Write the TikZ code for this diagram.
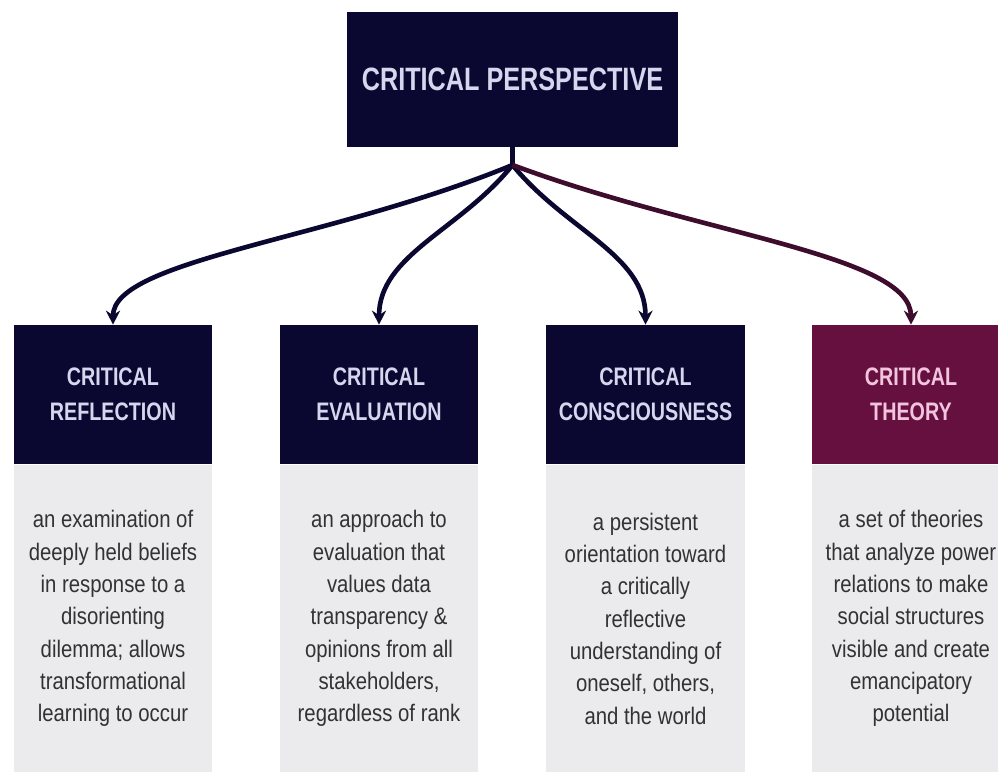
\documentclass[tikz,border=0pt]{standalone}
\usepackage{fontspec}
\setmainfont{Liberation Sans}
\newfontfamily\condfont{Liberation Sans}[FakeStretch=0.78]
\newfontfamily\bodyfont{Liberation Sans}[FakeStretch=0.85]
\usetikzlibrary{arrows.meta}
\definecolor{navy}{RGB}{10,8,48}
\definecolor{wine}{RGB}{102,16,64}
\definecolor{winelink}{RGB}{62,12,44}
\definecolor{paper}{RGB}{235,235,237}
\definecolor{ink}{RGB}{50,50,52}
\definecolor{lilac}{RGB}{214,214,238}
\definecolor{blush}{RGB}{242,196,222}

\begin{document}
\begin{tikzpicture}[x=0.025cm, y=0.025cm,
  title/.style={rectangle, fill=navy, text=lilac, minimum width=8.275cm,
    minimum height=3.375cm, font=\condfont\bfseries\fontsize{23}{27}\selectfont},
  head/.style={rectangle, fill=navy, text=lilac, minimum width=4.95cm,
    minimum height=3.475cm, align=center, inner sep=0pt,
    font=\condfont\bfseries\fontsize{18}{25}\selectfont},
  body/.style={rectangle, fill=paper, text=ink, minimum width=4.95cm,
    minimum height=7.7cm, align=center, inner sep=0pt, anchor=north,
    font=\bodyfont\fontsize{17}{23}\selectfont},
  link/.style={line width=3.3pt, draw=navy, -{Stealth[length=10pt,width=10pt]}}]
\useasboundingbox (0,0) rectangle (998,-771);
\clip (0,0) rectangle (998,-771);

% Top box
\node[title] (top) at (512.5,-79.5) {CRITICAL PERSPECTIVE};
\coordinate (hub) at (512.5,-165);

% Header boxes
\node[head] (refl) at (113,-394.5) {CRITICAL\\REFLECTION};
\node[head] (eval) at (379,-394.5) {CRITICAL\\EVALUATION};
\node[head] (cons) at (645.5,-394.5) {CRITICAL\\CONSCIOUSNESS};
\node[head, fill=wine, text=blush] (theo) at (911,-394.5) {CRITICAL\\THEORY};

% Descriptions
\node[body] (refltext) at (refl.south) {an examination of\\deeply held beliefs\\in response to a\\disorienting\\dilemma; allows\\transformational\\learning to occur};
\node[body] (evaltext) at (eval.south) {an approach to\\evaluation that\\values data\\transparency \&\\opinions from all\\stakeholders,\\regardless of rank};
\node[body] (constext) at (cons.south) {a persistent\\orientation toward\\a critically\\reflective\\understanding of\\oneself, others,\\and the world};
\node[body] (theotext) at (theo.south) {a set of theories\\that analyze power\\relations to make\\social structures\\visible and create\\emancipatory\\potential};

% Connectors
\draw[line width=3.3pt, navy] (top.south) -- (hub);
\draw[link] (hub) .. controls +(-182,-75) and +(0,65) .. (refl.north);
\draw[link] (hub) .. controls +(-52,-65) and +(0,70) .. (eval.north);
\draw[link] (hub) .. controls +(53,-65) and +(0,70) .. (cons.north);
\draw[link, draw=winelink] (hub) .. controls +(188,-70) and +(0,70) .. (theo.north);

\end{tikzpicture}
\end{document}
